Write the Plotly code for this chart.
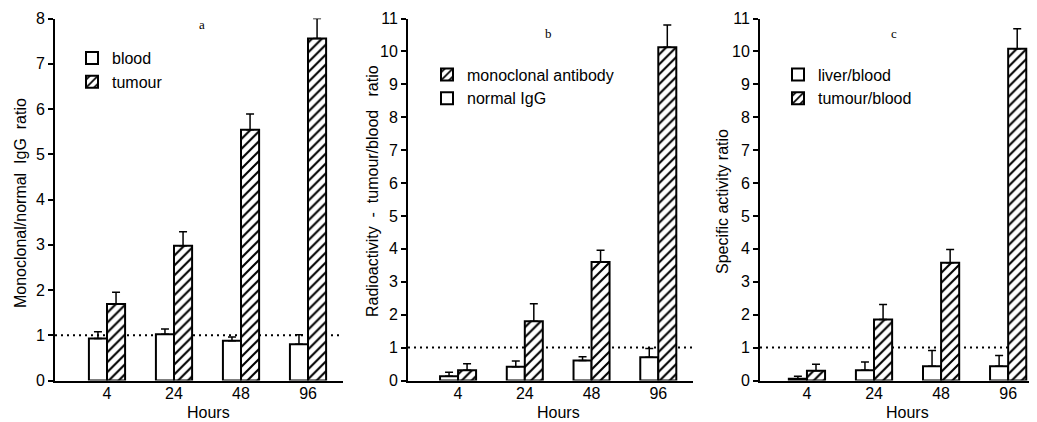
import plotly.graph_objects as go

hours = ["4", "24", "48", "96"]

# Panel a
a_blood = [0.93, 1.02, 0.88, 0.80]
a_blood_err = [0.15, 0.12, 0.08, 0.21]
a_tumour = [1.69, 2.98, 5.54, 7.56]
a_tumour_err = [0.26, 0.31, 0.35, 0.44]

# Panel b
b_normal = [0.13, 0.42, 0.61, 0.71]
b_normal_err = [0.12, 0.17, 0.11, 0.26]
b_mono = [0.31, 1.80, 3.60, 10.13]
b_mono_err = [0.20, 0.53, 0.36, 0.67]

# Panel c
c_liver = [0.05, 0.31, 0.43, 0.43]
c_liver_err = [0.08, 0.25, 0.48, 0.33]
c_tumour = [0.30, 1.85, 3.58, 10.08]
c_tumour_err = [0.19, 0.46, 0.40, 0.61]

FONT = "Liberation Sans, Arial, sans-serif"
NB = "\u00a0"

# page has an 8px body margin: figure placed at (8, 8)
OFF = 8
W, H = 1037 - OFF, 422 - OFF


def px(x):
    return (x - OFF) / W


def py(y):
    return (H - (y - OFF)) / H


fig = go.Figure()


def add_bar(x, y, err, name, hatched, xa, ya, legend, rank):
    fig.add_trace(go.Bar(
        x=x, y=y, name=name, xaxis=xa, yaxis=ya, legend=legend, legendrank=rank,
        marker=dict(
            color="white",
            line=dict(color="black", width=2),
            pattern=dict(shape="/" if hatched else "", fgcolor="black",
                         bgcolor="white", size=7, solidity=0.3),
        ),
        error_y=dict(type="data", symmetric=False, array=err,
                     arrayminus=[0] * len(err), color="black",
                     thickness=1.5, width=4),
    ))


add_bar(hours, a_blood, a_blood_err, "blood", False, "x", "y", "legend", 1)
add_bar(hours, a_tumour, a_tumour_err, "tumour", True, "x", "y", "legend", 2)
add_bar(hours, b_normal, b_normal_err, "normal" + NB + "IgG", False, "x2", "y2", "legend2", 2)
add_bar(hours, b_mono, b_mono_err, "monoclonal" + NB + "antibody", True, "x2", "y2", "legend2", 1)
add_bar(hours, c_liver, c_liver_err, "liver/blood", False, "x3", "y3", "legend3", 1)
add_bar(hours, c_tumour, c_tumour_err, "tumour/blood", True, "x3", "y3", "legend3", 2)

ydom = [py(380.5), py(18.5)]

xcommon = dict(type="category", showline=True, linecolor="black", linewidth=2,
               ticks="", showgrid=False, zeroline=False, automargin=False,
               ticklabelstandoff=-3,
               tickfont=dict(family=FONT, size=16, color="black"))
ycommon = dict(showline=True, linecolor="black", linewidth=2, ticks="outside",
               ticklen=5, tickwidth=1.5, tickcolor="black", showgrid=False,
               zeroline=False, dtick=1, domain=ydom, automargin=False,
               tickfont=dict(family=FONT, size=16, color="black"))

legcommon = dict(xanchor="left", yanchor="top", bgcolor="rgba(0,0,0,0)",
                 font=dict(family=FONT, size=16, color="black"), tracegroupgap=0)

fig.update_layout(
    template="none",
    width=W, height=H,
    margin=dict(l=0, r=0, t=0, b=0, autoexpand=False),
    paper_bgcolor="white", plot_bgcolor="white",
    barmode="group", bargap=0.46, bargroupgap=0,
    showlegend=True,
    xaxis=dict(**xcommon, domain=[px(55), px(343)], range=[-0.776, 3.522], anchor="y"),
    xaxis2=dict(**xcommon, domain=[px(408), px(693)], range=[-0.75, 3.52], anchor="y2"),
    xaxis3=dict(**xcommon, domain=[px(760), 1.0], range=[-0.70, 3.43], anchor="y3"),
    yaxis=dict(**ycommon, range=[0, 8], anchor="x"),
    yaxis2=dict(**ycommon, range=[0, 11], anchor="x2"),
    yaxis3=dict(**ycommon, range=[0, 11], anchor="x3"),
    legend=dict(**legcommon, x=px(72), y=py(41)),
    legend2=dict(**legcommon, x=px(427), y=py(57.5)),
    legend3=dict(**legcommon, x=px(778), y=py(57.5)),
)

for xa, ya in [("x", "y"), ("x2", "y2"), ("x3", "y3")]:
    fig.add_shape(type="line", xref=xa + " domain", yref=ya, x0=0, x1=1, y0=1, y1=1,
                  line=dict(color="black", width=2, dash="2px,4px"), layer="below")

# axis titles
titles = [
    ("Monoclonal/normal" + NB + NB + "IgG" + NB + NB + "ratio", 20, 203, -90),
    ("Radioactivity" + NB * 2 + "-" + NB * 2 + "tumour/blood" + NB * 3 + "ratio", 373, 191, -90),
    ("Specific activity ratio", 722, 202, -90),
    ("Hours", 208, 412, 0),
    ("Hours", 558, 412, 0),
    ("Hours", 907, 412, 0),
]
for txt, x, y, ang in titles:
    fig.add_annotation(text=txt, x=px(x), y=py(y), xref="paper", yref="paper",
                       xanchor="center", yanchor="middle", textangle=ang,
                       showarrow=False, font=dict(family=FONT, size=16, color="black"))

for txt, x, y in [("a", 202, 25), ("b", 548, 33), ("c", 894, 33)]:
    fig.add_annotation(text=txt, x=px(x), y=py(y), xref="paper", yref="paper",
                       xanchor="center", yanchor="middle", showarrow=False,
                       font=dict(family="Liberation Serif, serif", size=13, color="black"))

fig.write_html("out.html")
